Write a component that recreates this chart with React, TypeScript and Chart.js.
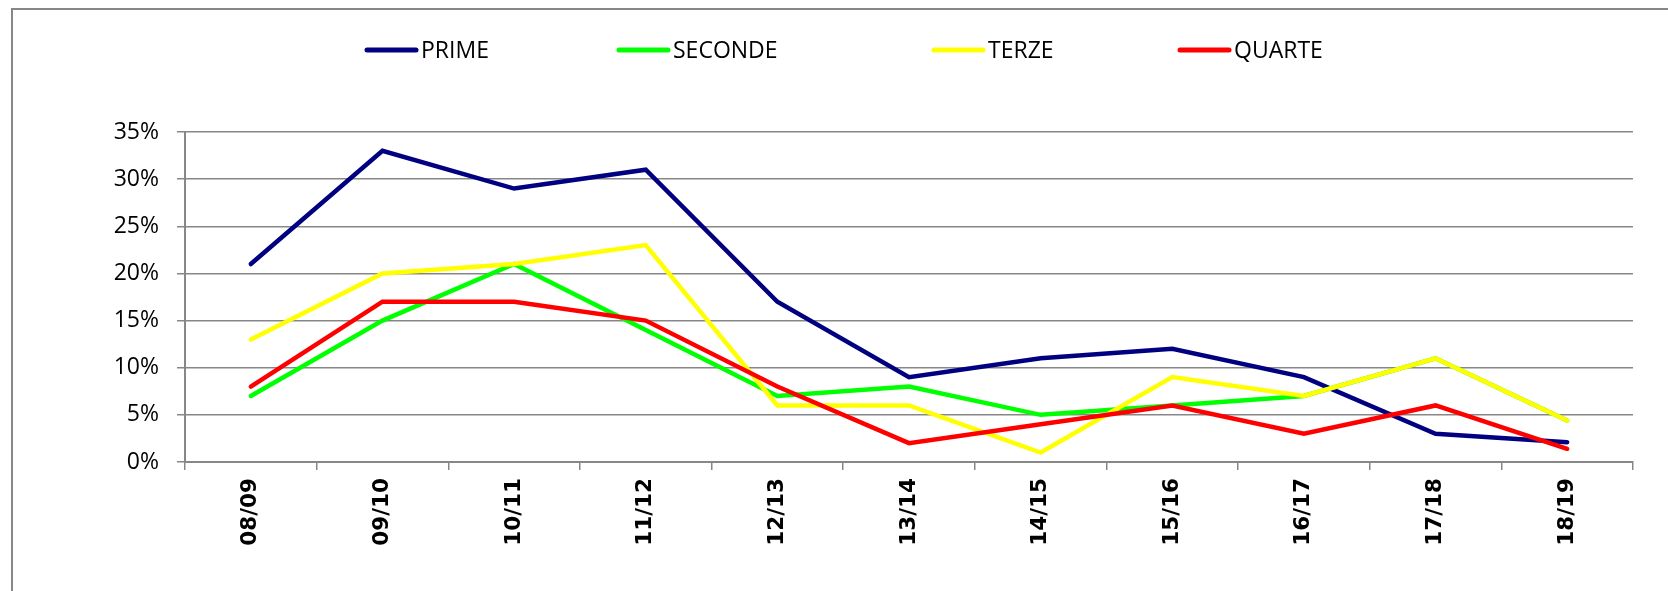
import React, { useEffect, useRef } from "react";
import { Chart, registerables } from "chart.js";

Chart.register(...registerables);

const categories = ["08/09", "09/10", "10/11", "11/12", "12/13", "13/14", "14/15", "15/16", "16/17", "17/18", "18/19"];
const seriesNames = ["PRIME", "SECONDE", "TERZE", "QUARTE"];
const prime = [21, 33, 29, 31, 17, 9, 11, 12, 9, 3, 2.1];
const seconde = [7, 15, 21, 14, 7, 8, 5, 6, 7, 11, 4.4];
const terze = [13, 20, 21, 23, 6, 6, 1, 9, 7, 11, 4.4];
const quarte = [8, 17, 17, 15, 8, 2, 4, 6, 3, 6, 1.4];
const yTicks = [0, 5, 10, 15, 20, 25, 30, 35];

const colors = ["#000080", "#00FF00", "#FFFF00", "#FF0000"];
const GRAY = "#878787";
const LEGEND_X = [365, 617, 932, 1178];

export default function App() {
  const ref = useRef<HTMLCanvasElement | null>(null);

  useEffect(() => {
    if (!ref.current) return;
    const values = [prime, seconde, terze, quarte];

    const framePlugin = {
      id: "frame",
      beforeDraw(chart: any) {
        const ctx = chart.ctx;
        ctx.save();
        ctx.fillStyle = "#ffffff";
        ctx.fillRect(0, 0, chart.width, chart.height);
        ctx.strokeStyle = GRAY;
        ctx.lineWidth = 2;
        ctx.beginPath();
        ctx.moveTo(12, chart.height);
        ctx.lineTo(12, 9);
        ctx.lineTo(chart.width, 9);
        ctx.stroke();
        ctx.restore();
      },
    };

    const legendPlugin = {
      id: "customLegend",
      afterDraw(chart: any) {
        const ctx = chart.ctx;
        ctx.save();
        chart.data.datasets.forEach((ds: any, i: number) => {
          const x = LEGEND_X[i];
          const y = 50;
          ctx.strokeStyle = ds.borderColor;
          ctx.lineWidth = 5;
          ctx.lineCap = "round";
          ctx.beginPath();
          ctx.moveTo(x + 2, y);
          ctx.lineTo(x + 51, y);
          ctx.stroke();
          ctx.fillStyle = "#000000";
          ctx.font = "23px 'Open Sans'";
          ctx.textBaseline = "middle";
          ctx.textAlign = "left";
          ctx.fillText(ds.label, x + 56, y + 1);
        });
        ctx.restore();
      },
    };

    const chart = new Chart(ref.current, {
      type: "line",
      data: {
        labels: categories,
        datasets: seriesNames.map((name, i) => ({
          label: name,
          data: values[i],
          borderColor: colors[i],
          backgroundColor: colors[i],
          borderWidth: 4.5,
          pointRadius: 0,
          tension: 0,
          fill: false,
          borderCapStyle: "round" as const,
          borderJoinStyle: "miter" as const,
          order: seriesNames.length - 1 - i,
        })),
      },
      options: {
        responsive: false,
        animation: false,
        layout: { padding: { top: 132, right: 35, bottom: 29, left: 0 } },
        plugins: {
          legend: { display: false },
          tooltip: { enabled: false },
          title: { display: false },
        },
        scales: {
          x: {
            type: "category",
            offset: true,
            grid: {
              offset: true,
              drawOnChartArea: false,
              drawTicks: true,
              tickLength: 8,
              color: GRAY,
              lineWidth: 1.5,
            },
            border: { display: true, color: GRAY, width: 2 },
            ticks: {
              maxRotation: 90,
              minRotation: 90,
              autoSkip: false,
              padding: 8,
              color: "#000000",
              font: { family: "'DejaVu Sans'", size: 21.5, weight: "bold" },
            },
            afterFit(scale: any) {
              scale.height = 100;
            },
          },
          y: {
            min: 0,
            max: 35,
            afterBuildTicks(scale: any) {
              scale.ticks = yTicks.map((v) => ({ value: v }));
            },
            grid: {
              drawTicks: true,
              tickLength: 8,
              color: GRAY,
              lineWidth: 1.5,
            },
            border: { display: true, color: GRAY, width: 2 },
            ticks: {
              padding: 18,
              color: "#000000",
              font: { family: "'Open Sans'", size: 23 },
              callback: (v: any) => `${v}%`,
            },
            afterFit(scale: any) {
              scale.width = 185;
            },
          },
        },
      },
      plugins: [framePlugin, legendPlugin],
    });

    return () => chart.destroy();
  }, []);

  return (
    <div style={{ position: "fixed", left: 0, top: 0, width: 1668, height: 591, background: "#fff" }}>
      <canvas ref={ref} width={1668} height={591} style={{ display: "block" }} />
    </div>
  );
}
